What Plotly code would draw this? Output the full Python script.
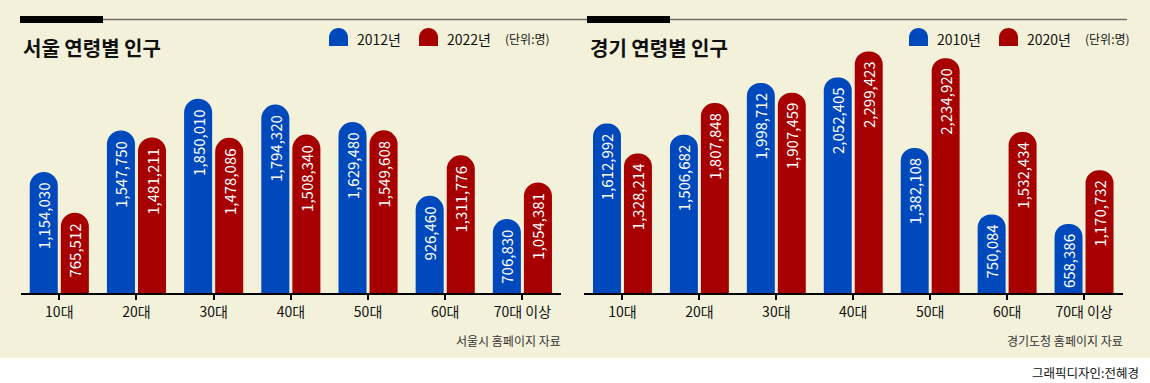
import plotly.graph_objects as go

# ---------------- data ----------------
categories = ["10대", "20대", "30대", "40대", "50대", "60대", "70대 이상"]

seoul_2012 = [1154030, 1547750, 1850010, 1794320, 1629480, 926460, 706830]
seoul_2022 = [765512, 1481211, 1478086, 1508340, 1549608, 1311776, 1054381]

gyeonggi_2010 = [1612992, 1506682, 1998712, 2052405, 1382108, 750084, 658386]
gyeonggi_2020 = [1328214, 1807848, 1907459, 2299423, 2234920, 1532434, 1170732]

titles = ["서울 연령별 인구", "경기 연령별 인구"]
legend_years = [["2012년", "2022년"], ["2010년", "2020년"]]
unit_label = "(단위:명)"
sources = ["서울시 홈페이지 자료", "경기도청 홈페이지 자료"]
credit = "그래픽디자인:전혜경"

# ---------------- style ----------------
W, H = 1150, 383
BLUE = "#0049BC"
RED = "#A60000"
CREAM = "#F3F1DA"
FONT = "Noto Sans CJK KR"


def px(x):
    return x / W


def py(y):
    return 1 - y / H


fig = go.Figure()

panels = [
    (seoul_2012, seoul_2022, "x", "y"),
    (gyeonggi_2010, gyeonggi_2020, "x2", "y2"),
]
for i, (a, b, xa, ya) in enumerate(panels):
    for vals, col, nm in ((a, BLUE, legend_years[i][0]), (b, RED, legend_years[i][1])):
        fig.add_trace(go.Bar(
            x=categories, y=vals, name=nm, xaxis=xa, yaxis=ya,
            marker=dict(color=col, line=dict(width=0), cornerradius="50%"),
            texttemplate="%{y:,}", textposition="inside", insidetextanchor="end",
            textangle=-90, textfont=dict(color="white", size=15, family=FONT),
            showlegend=False, hoverinfo="skip",
        ))

base_y = 293.3
top_y = 40.0
scale = 105.2  # px per million
ymax = (base_y - top_y) / scale * 1e6

xaxis_common = dict(
    type="category", range=[-0.5, 6.5], showline=True, linecolor="black", linewidth=2,
    ticks="outside", ticklen=5, tickwidth=2, tickcolor="black",
    tickfont=dict(size=14, family=FONT, color="#111"), showgrid=False, zeroline=False,
    fixedrange=True,
)
yaxis_common = dict(range=[0, ymax], visible=False, showgrid=False, zeroline=False, fixedrange=True)

fig.update_layout(
    width=W, height=H, autosize=False,
    margin=dict(l=0, r=0, t=0, b=0),
    paper_bgcolor="white", plot_bgcolor="rgba(0,0,0,0)",
    barmode="group", bargap=0.195, bargroupgap=0.097,
    font=dict(family=FONT),
    uniformtext=dict(minsize=15, mode="show"),
    xaxis=dict(domain=[px(20.7), px(561)], anchor="y", **xaxis_common),
    yaxis=dict(domain=[py(base_y), py(top_y)], anchor="x", **yaxis_common),
    xaxis2=dict(domain=[px(584), px(1122.5)], anchor="y2", **xaxis_common),
    yaxis2=dict(domain=[py(base_y), py(top_y)], anchor="x2", **yaxis_common),
)

shapes = []
# cream background
shapes.append(dict(type="rect", xref="paper", yref="paper", x0=0, x1=1, y0=py(358), y1=1,
                   fillcolor=CREAM, line=dict(width=0), layer="below"))
# top rule
shapes.append(dict(type="line", xref="paper", yref="paper", x0=px(20), x1=px(1127), y0=py(19.5), y1=py(19.5),
                   line=dict(color="#6E6E6E", width=1.5)))
for x0 in (20, 587):
    shapes.append(dict(type="rect", xref="paper", yref="paper", x0=px(x0), x1=px(x0 + 83),
                       y0=py(23), y1=py(16), fillcolor="black", line=dict(width=0)))


def rounded_marker(x0, y0, w, h, color):
    r = w / 2
    k = 0.5523 * r
    x1 = x0 + w
    yb = y0 + h
    pts = (
        f"M {px(x0)},{py(yb)} L {px(x0)},{py(y0 + r)} "
        f"C {px(x0)},{py(y0 + r - k)} {px(x0 + r - k)},{py(y0)} {px(x0 + r)},{py(y0)} "
        f"C {px(x0 + r + k)},{py(y0)} {px(x1)},{py(y0 + r - k)} {px(x1)},{py(y0 + r)} "
        f"L {px(x1)},{py(yb)} Z"
    )
    return dict(type="path", xref="paper", yref="paper", path=pts, fillcolor=color, line=dict(width=0))


annotations = []
legend_pos = [(329, 419, 503), (909, 999, 1083)]
title_x = [21, 588]
for i in range(2):
    bx, rx, ux = legend_pos[i]
    shapes.append(rounded_marker(bx, 28, 19, 18, BLUE))
    shapes.append(rounded_marker(rx, 28, 19, 18, RED))
    annotations.append(dict(xref="paper", yref="paper", x=px(bx + 26), y=py(39), xanchor="left", yanchor="middle",
                            text=legend_years[i][0], showarrow=False, font=dict(size=14, color="#111", family=FONT)))
    annotations.append(dict(xref="paper", yref="paper", x=px(rx + 26), y=py(39), xanchor="left", yanchor="middle",
                            text=legend_years[i][1], showarrow=False, font=dict(size=14, color="#111", family=FONT)))
    annotations.append(dict(xref="paper", yref="paper", x=px(ux), y=py(39), xanchor="left", yanchor="middle",
                            text=unit_label, showarrow=False, font=dict(size=12, color="#111", family=FONT)))
    annotations.append(dict(xref="paper", yref="paper", x=px(title_x[i]), y=py(47), xanchor="left", yanchor="middle",
                            text=f"<b>{titles[i]}</b>", showarrow=False, font=dict(size=20, color="#111", family=FONT)))

annotations.append(dict(xref="paper", yref="paper", x=px(563), y=py(340), xanchor="right", yanchor="middle",
                        text=sources[0], showarrow=False, font=dict(size=12, color="#333", family=FONT)))
annotations.append(dict(xref="paper", yref="paper", x=px(1125), y=py(340), xanchor="right", yanchor="middle",
                        text=sources[1], showarrow=False, font=dict(size=12, color="#333", family=FONT)))
annotations.append(dict(xref="paper", yref="paper", x=px(1141), y=py(372), xanchor="right", yanchor="middle",
                        text=credit, showarrow=False, font=dict(size=12.5, color="#111", family=FONT)))

fig.update_layout(shapes=shapes, annotations=annotations)

fig.write_html("out.html", config={"displayModeBar": False},
               post_script="document.body.style.margin='0';")
